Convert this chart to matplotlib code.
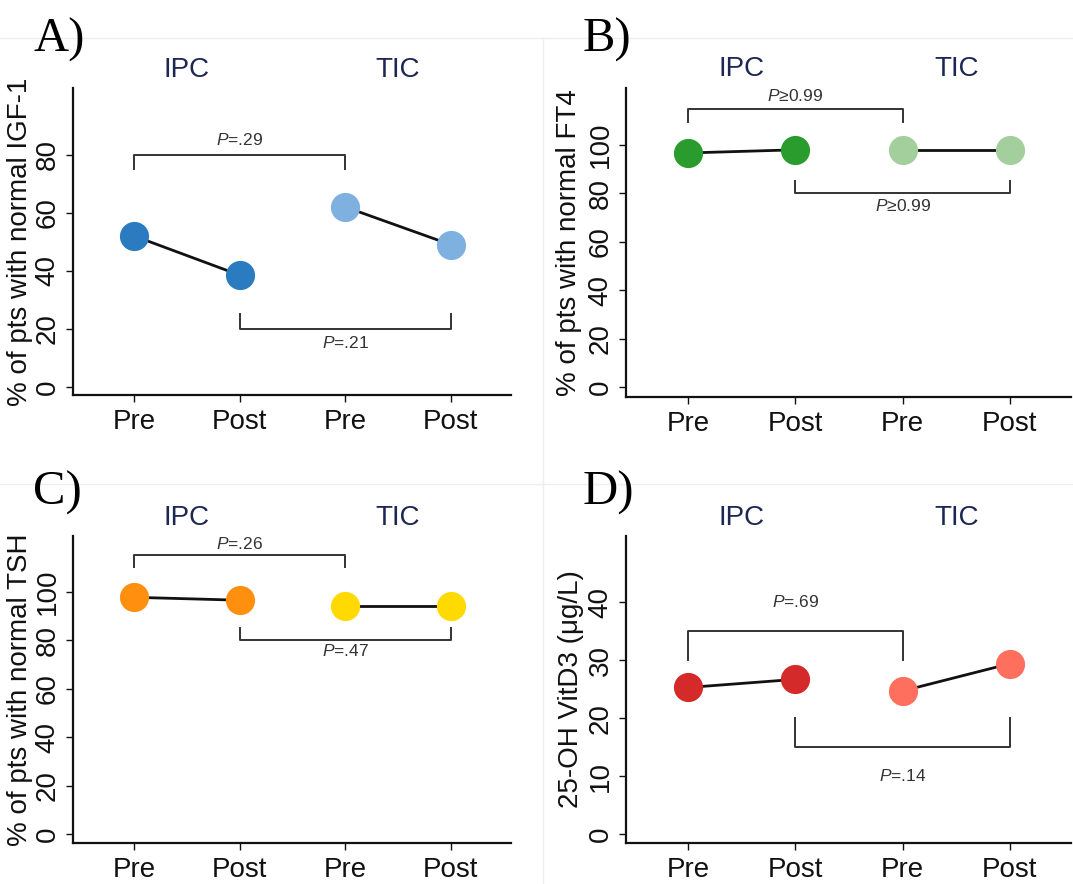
import matplotlib
matplotlib.use("Agg")
import matplotlib.pyplot as plt
from matplotlib.lines import Line2D

plt.rcParams['font.family'] = ['Liberation Sans', 'DejaVu Sans']
plt.rcParams['mathtext.fontset'] = 'custom'
plt.rcParams['mathtext.it'] = 'Liberation Sans:italic'
plt.rcParams['mathtext.rm'] = 'Liberation Sans'

# data
conditions = ["Pre", "Post", "Pre", "Post"]
groups = ["IPC", "TIC"]

igf1 = [52, 38.5, 62, 49]
ft4 = [96.7, 98, 98, 98]
tsh = [97.7, 96.5, 94.2, 94.2]
vitd3 = [25.3, 26.7, 24.7, 29.4]

p_igf1 = [".29", ".21"]
p_ft4 = ["\u22650.99", "\u22650.99"]
p_tsh = [".26", ".47"]
p_vitd3 = [".69", ".14"]

# panel settings: values, p-values, colours, ylabel, yticks, ylim,
# (top bracket bar, tip), (bottom bracket bar, tip), top label y, bottom label y
panels = [
    ("A)", igf1, p_igf1, ["#2a7bbf", "#7eb0e0"], "% of pts with normal IGF-1",
     [0, 20, 40, 60, 80], (-2.8, 103), (80, 75), (20, 25), 85, 15),
    ("B)", ft4, p_ft4, ["#2a9c2e", "#a3cf9c"], "% of pts with normal FT4",
     [0, 20, 40, 60, 80, 100], (-4, 123.5), (115, 109.5), (80, 85), 120, 75),
    ("C)", tsh, p_tsh, ["#ff8f0f", "#ffda00"], "% of pts with normal TSH",
     [0, 20, 40, 60, 80, 100], (-3.7, 123), (115, 110), (80, 85), 119.5, 75.5),
    ("D)", vitd3, p_vitd3, ["#d42a2a", "#ff6f5e"], "25-OH VitD3 (\u03bcg/L)",
     [0, 10, 20, 30, 40], (-1.5, 51.4), (35, 30), (15, 20), 40, 10),
]

W, H = 1073, 884
fig = plt.figure(figsize=(W / 100, H / 100), dpi=100)

# faint panel borders
for y in [38, 484]:
    fig.add_artist(Line2D([0, 1], [1 - y / H, 1 - y / H], color="#eeeeee", lw=1))
fig.add_artist(Line2D([543 / W, 543 / W], [0, 1 - 38 / H], color="#eeeeee", lw=1))

boxes = [(73, 511, 88, 395), (626, 1071, 88, 397),
         (73, 511, 536, 843), (626, 1071, 536, 843)]
letter_pos = [(33, 52), (583, 52), (33, 505), (583, 505)]
label_x = [-0.091, -0.099, -0.091, -0.094]

x = [1, 2, 3, 4]
for (letter, vals, pv, cols, ylab, yt, ylim, tb, bb, tly, bly), box, lp, lx in zip(panels, boxes, letter_pos, label_x):
    l, r, t, b = box
    ax = fig.add_axes([l / W, 1 - b / H, (r - l) / W, (b - t) / H])
    ax.set_xlim(0.42, 4.57)
    ax.set_ylim(*ylim)
    for s in ["top", "right"]:
        ax.spines[s].set_visible(False)
    for s in ["left", "bottom"]:
        ax.spines[s].set_linewidth(1.6)
        ax.spines[s].set_color("#111111")

    ax.plot(x[:2], vals[:2], color="#111111", lw=2, zorder=1)
    ax.plot(x[2:], vals[2:], color="#111111", lw=2, zorder=1)
    ax.plot(x[:2], vals[:2], "o", ms=21, color=cols[0], mec="none", zorder=2)
    ax.plot(x[2:], vals[2:], "o", ms=21, color=cols[1], mec="none", zorder=2)

    # brackets
    ax.plot([1, 1, 3, 3], [tb[1], tb[0], tb[0], tb[1]], color="#333333", lw=1.4)
    ax.plot([2, 2, 4, 4], [bb[1], bb[0], bb[0], bb[1]], color="#333333", lw=1.4)
    ax.text(2, tly, r"$\mathit{P}$" + ("" if pv[0].startswith("\u2265") else "=") + pv[0],
            ha="center", va="center", fontsize=12.5, color="#333333")
    ax.text(3, bly, r"$\mathit{P}$" + ("" if pv[1].startswith("\u2265") else "=") + pv[1],
            ha="center", va="center", fontsize=12.5, color="#333333")

    ax.set_xticks(x)
    ax.set_xticklabels(conditions, fontsize=20)
    ax.set_yticks(yt)
    ax.set_yticklabels([str(v) for v in yt], fontsize=20, rotation=90, va="center")
    ax.tick_params(axis="x", length=5, width=1, pad=5, colors="#111111")
    ax.tick_params(axis="y", length=5, width=1, pad=4, colors="#111111")

    ax.set_ylabel(ylab, fontsize=20, color="#111111")
    ax.yaxis.set_label_coords(lx, 0.5)

    for gx, g in zip([1.5, 3.5], groups):
        ax.text(gx, 1.06, g, transform=ax.get_xaxis_transform(), ha="center",
                va="center", fontsize=20, color="#1c2753")

    fig.text(lp[0] / W, 1 - lp[1] / H, letter, fontsize=35,
             family="Liberation Serif", ha="left", va="baseline")

fig.savefig("out.png", dpi=100)
